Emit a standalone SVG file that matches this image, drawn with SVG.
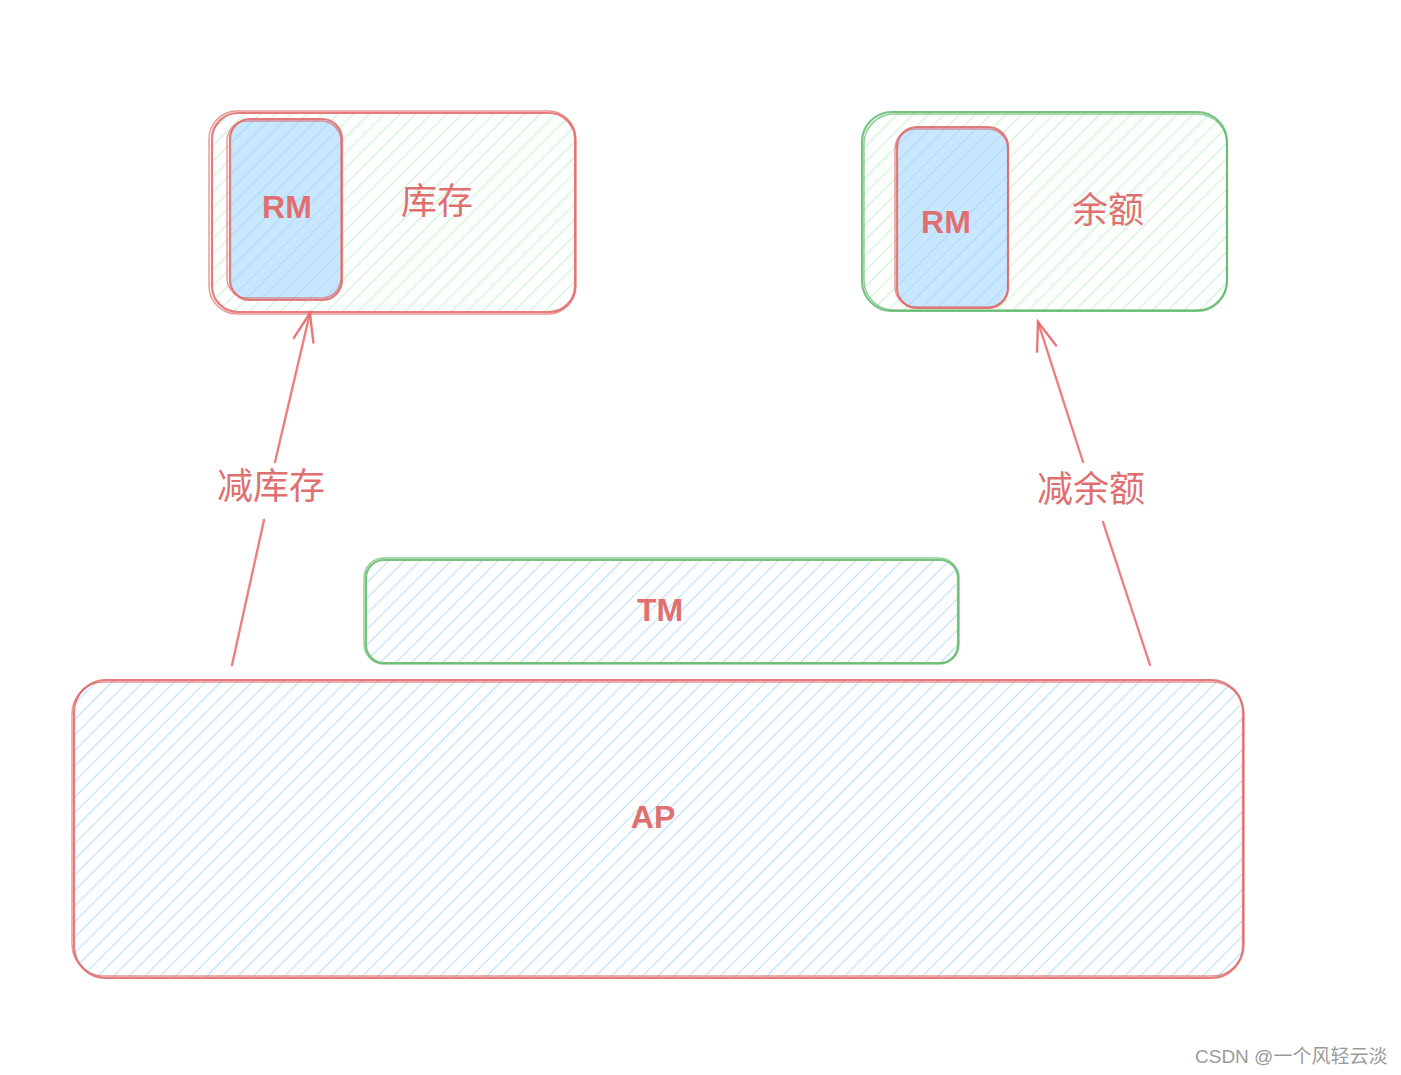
<svg xmlns="http://www.w3.org/2000/svg" width="1401" height="1075" viewBox="0 0 1401 1075">
<style>
.red{fill:none;stroke:#e06666;stroke-opacity:0.85;stroke-width:2.2;}
.red2{fill:none;stroke:#e06666;stroke-opacity:0.7;stroke-width:1.4;}
.grn{fill:none;stroke:#5fb86a;stroke-opacity:0.85;stroke-width:2.2;}
.grn2{fill:none;stroke:#5fb86a;stroke-opacity:0.7;stroke-width:1.4;}
.lbl{font-family:"Liberation Sans","Noto Sans CJK SC",sans-serif;fill:#e07070;text-anchor:middle;dominant-baseline:central;}
.en{font-size:32px;font-weight:bold;}
.cn{font-size:36px;}
.conn{fill:none;stroke:#e8696b;stroke-opacity:0.85;stroke-width:2.4;stroke-linecap:round;}
.wm{font-family:"Liberation Sans","Noto Sans CJK SC",sans-serif;font-size:19px;fill:#9a9a9a;}
</style>
<defs>
<pattern id="hg" width="11" height="11" patternUnits="userSpaceOnUse" patternTransform="rotate(45)">
<line x1="0" y1="0" x2="0" y2="11" stroke="#b2f2bb" stroke-width="1.6"/>
</pattern>
<pattern id="hb" width="11" height="11" patternUnits="userSpaceOnUse" patternTransform="rotate(45)">
<line x1="0" y1="0" x2="0" y2="11" stroke="#a5d8ff" stroke-width="1.7"/>
</pattern>
<marker id="arr" markerWidth="40" markerHeight="40" refX="30" refY="20" orient="auto" markerUnits="userSpaceOnUse">
<path d="M2 10 L30 20 L2 30" fill="none" stroke="#e8696b" stroke-opacity="0.9" stroke-width="2.4" stroke-linecap="round"/>
</marker>
</defs>
<rect width="1401" height="1075" fill="#ffffff"/>

<g id="stock">
<rect x="212" y="113" width="363" height="199" rx="26" fill="url(#hg)"/>
<rect x="212" y="113" width="363" height="199" rx="26" class="red"/>
<rect x="209" y="111" width="367" height="203" rx="28" class="red2"/>
<text x="437" y="201" class="lbl cn">库存</text>
</g>
<g id="rm1">
<rect x="230" y="119" width="112" height="181" rx="20" fill="#c8e6fc"/>
<rect x="230" y="119" width="112" height="181" rx="20" fill="url(#hb)"/>
<rect x="230" y="119" width="112" height="181" rx="20" class="red"/>
<rect x="227" y="121" width="114" height="177" rx="20" class="red2"/>
<text x="287" y="207" class="lbl en">RM</text>
</g>

<g id="balance">
<rect x="862" y="112" width="365" height="199" rx="30" fill="url(#hg)"/>
<rect x="862" y="112" width="365" height="199" rx="30" class="grn"/>
<rect x="864" y="114" width="363" height="196" rx="30" class="grn2"/>
<text x="1108" y="210" class="lbl cn">余额</text>
</g>
<g id="rm2">
<rect x="897" y="127" width="111" height="181" rx="20" fill="#c8e6fc"/>
<rect x="897" y="127" width="111" height="181" rx="20" fill="url(#hb)"/>
<rect x="897" y="127" width="111" height="181" rx="20" class="red"/>
<rect x="895" y="129" width="113" height="178" rx="20" class="red2"/>
<text x="946" y="222" class="lbl en">RM</text>
</g>

<g id="tm">
<rect x="366" y="560" width="592" height="103" rx="18" fill="url(#hb)"/>
<rect x="366" y="560" width="592" height="103" rx="18" class="grn"/>
<rect x="364" y="558" width="595" height="106" rx="20" class="grn2"/>
<text x="660" y="610" class="lbl en">TM</text>
</g>

<g id="ap">
<rect x="74" y="680" width="1169" height="298" rx="32" fill="url(#hb)"/>
<rect x="74" y="680" width="1169" height="298" rx="32" class="red"/>
<rect x="72" y="682" width="1172" height="294" rx="32" class="red2"/>
<text x="653" y="817" class="lbl en">AP</text>
</g>

<g id="connectors">
<path class="conn" d="M232 665 L264 520"/>
<path class="conn" d="M275 462 L310 313" marker-end="url(#arr)"/>
<path class="conn" d="M1150 665 L1103 522"/>
<path class="conn" d="M1083 462 L1038 322" marker-end="url(#arr)"/>
<text x="271" y="486" class="lbl cn">减库存</text>
<text x="1091" y="489" class="lbl cn">减余额</text>
</g>

<text x="1195" y="1063" class="wm">CSDN @一个风轻云淡</text>
</svg>
